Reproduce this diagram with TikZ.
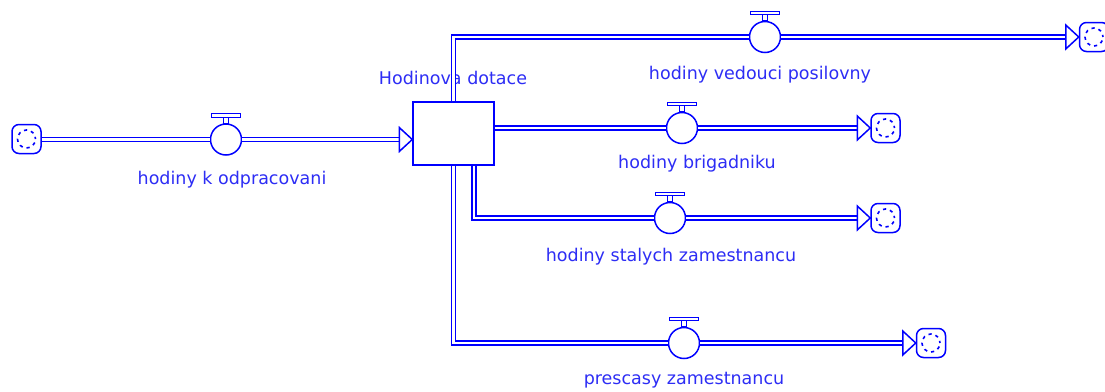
\documentclass[tikz,border=0pt]{standalone}
\usepackage{fontspec}
\setmainfont{DejaVu Sans}
\usetikzlibrary{calc}
\definecolor{flowblue}{RGB}{0,0,255}
\definecolor{labelblue}{RGB}{45,45,245}
\tikzset{
  pipe/.style={draw=flowblue, line width=1.5pt, double=white, double distance=2.4pt, line join=miter},
  stockbox/.style={draw=flowblue, line width=1.5pt, fill=white, minimum width=81pt, minimum height=63pt, inner sep=0pt},
  valvecircle/.style={circle, draw=flowblue, line width=1.5pt, fill=white, minimum size=31pt, inner sep=0pt},
  cloud/.style={draw=flowblue, line width=1.5pt, fill=white, rounded corners=7pt, minimum size=29pt, inner sep=0pt,
    path picture={\draw[flowblue, line width=1.6pt, dash pattern=on 3.2pt off 4pt, dash phase=1pt]
      (path picture bounding box.center) circle (9pt);}},
  lbl/.style={text=labelblue, font=\fontsize{17.5}{20}\selectfont, inner sep=0pt},
  flowhead/.pic={\draw[flowblue, line width=1.5pt, fill=white, line join=miter] (0,0) -- (-13,-12) -- (-13,12) -- cycle;}
}
% valve handle: stem and bar above a valve node
\newcommand{\valvehandle}[1]{%
  \draw[flowblue, line width=1.3pt, fill=white] ([xshift=-2.5pt]#1.north) rectangle ([xshift=2.5pt,yshift=6pt]#1.north);
  \draw[flowblue, line width=1.3pt, fill=white] ([xshift=-14.5pt,yshift=6pt]#1.north) rectangle ([xshift=14.5pt,yshift=9.5pt]#1.north);
}
\begin{document}
\begin{tikzpicture}[x=1pt, y=-1pt]
\useasboundingbox (0,0) rectangle (1105,391);
\fill[white] (0,0) rectangle (1105,391);

% labels
\node[lbl] (lblstock) at (453,78) {Hodinova dotace};
\node[lbl] (lblin) at (232,180) {hodiny k odpracovani};
\node[lbl] (lblvp) at (760,75) {hodiny vedouci posilovny};
\node[lbl] (lblbr) at (697,164) {hodiny brigadniku};
\node[lbl] (lblst) at (671,257) {hodiny stalych zamestnancu};
\node[lbl] (lblpr) at (684,380) {prescasy zamestnancu};

% stock
\node[stockbox] (stock) at (453.5,133.5) {};

% valves
\node[valvecircle] (vin) at (226,139.5) {};
\node[valvecircle] (vvp) at (765,37) {};
\node[valvecircle] (vbr) at (682,128) {};
\node[valvecircle] (vst) at (670,218) {};
\node[valvecircle] (vpr) at (684,343) {};

% clouds
\node[cloud] (cin) at (26.5,139) {};
\node[cloud] (cvp) at (1094,37) {};
\node[cloud] (cbr) at (885.5,128) {};
\node[cloud] (cst) at (885.5,218) {};
\node[cloud] (cpr) at (931,343) {};

% inflow
\draw[pipe] (cin.east |- vin.west) -- (vin.west);
\draw[pipe] (vin.east) -- ([xshift=-12pt]vin.east -| stock.west);
\pic at (vin.east -| stock.west) {flowhead};

% outflows
\draw[pipe] (stock.north) |- (vvp.west);
\draw[pipe] (vvp.east) -- ([xshift=-12pt]cvp.west);
\pic at (cvp.west) {flowhead};

\draw[pipe] (stock.east |- vbr.west) -- (vbr.west);
\draw[pipe] (vbr.east) -- ([xshift=-12pt]cbr.west);
\pic at (cbr.west) {flowhead};

\draw[pipe] ([xshift=20.5pt]stock.south) |- (vst.west);
\draw[pipe] (vst.east) -- ([xshift=-12pt]cst.west);
\pic at (cst.west) {flowhead};

\draw[pipe] (stock.south) |- (vpr.west);
\draw[pipe] (vpr.east) -- ([xshift=-12pt]cpr.west);
\pic at (cpr.west) {flowhead};

% valve handles
\valvehandle{vin}
\valvehandle{vvp}
\valvehandle{vbr}
\valvehandle{vst}
\valvehandle{vpr}
\end{tikzpicture}
\end{document}
